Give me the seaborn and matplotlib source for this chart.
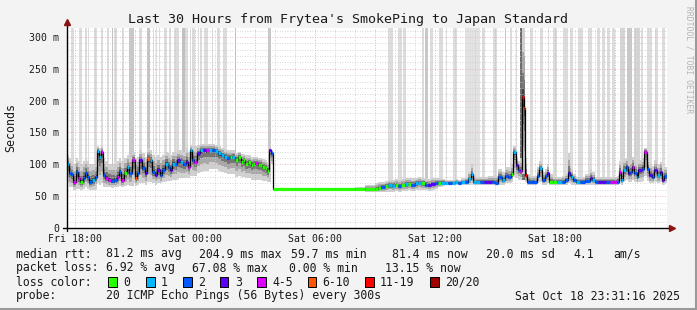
import numpy as np
import pandas as pd
import matplotlib
matplotlib.use("Agg")
import matplotlib.pyplot as plt
import seaborn as sns
from matplotlib.patches import Rectangle
from matplotlib.lines import Line2D

# ---------------- data ----------------
TITLE = "Last 30 Hours from Frytea's SmokePing to Japan Standard"
Y_LABEL = "Seconds"
x_tick_minutes = [25, 385, 745, 1105, 1465]          # minutes since 17:35 Fri
x_tick_labels = ["Fri 18:00", "Sat 00:00", "Sat 06:00", "Sat 12:00", "Sat 18:00"]
y_ticks = [0, 50, 100, 150, 200, 250, 300]
y_tick_labels = ["0", "50 m", "100 m", "150 m", "200 m", "250 m", "300 m"]

# median rtt samples (minutes since start, ms), loss class index, smoke low/high (ms)
minutes = [0, 6, 12, 18, 27, 33, 39, 48, 54, 60,
           66, 75, 84, 90, 96, 102, 108, 114, 123, 132,
           141, 150, 156, 162, 171, 180, 186, 195, 204, 210,
           216, 225, 234, 240, 249, 255, 264, 270, 279, 285,
           294, 303, 309, 315, 324, 330, 339, 348, 357, 363,
           369, 375, 381, 390, 399, 408, 417, 426, 435, 444,
           453, 462, 471, 480, 489, 495, 504, 513, 522, 528,
           534, 543, 552, 558, 564, 573, 579, 585, 594, 600,
           606, 612, 617,
           864, 894, 924, 933, 942, 954, 963, 975, 984, 993,
           1002, 1014, 1023, 1032, 1044, 1053, 1062, 1074, 1083, 1092,
           1104,
           1113, 1122, 1134, 1143, 1155, 1164, 1173, 1182, 1194, 1203,
           1212, 1218, 1227, 1239, 1251, 1263, 1275, 1284, 1293, 1305,
           1314, 1323, 1332, 1338, 1347, 1353, 1359, 1365, 1370, 1374,
           1380, 1389, 1398, 1410, 1416, 1425, 1434, 1440, 1446, 1458,
           1470, 1485, 1494, 1503, 1508, 1512, 1518, 1527, 1539, 1554,
           1569, 1575, 1584, 1593, 1605, 1617, 1629, 1641, 1650, 1656,
           1662, 1668, 1677, 1683, 1689, 1695, 1701, 1710, 1713, 1725,
           1731, 1740, 1746, 1755, 1761, 1770, 1779, 1785, 1791]
median_ms = [101, 86, 84, 72, 88, 78, 72, 78, 87, 80,
             72, 75, 80, 121, 112, 120, 83, 78, 76, 74,
             75, 80, 88, 75, 86, 95, 86, 106, 78, 86,
             106, 94, 86, 108, 106, 88, 83, 91, 83, 91,
             101, 95, 91, 101, 100, 106, 103, 100, 104, 96,
             122, 107, 104, 117, 122, 123, 122, 123, 123, 121,
             117, 114, 112, 110, 111, 112, 107, 112, 104, 106,
             101, 104, 99, 101, 102, 99, 99, 96, 94, 90,
             122, 117, 60.5,
             60.5, 61, 61.6, 63, 64, 65.6, 67, 66.7, 68, 66,
             68, 68.3, 69, 68, 70, 71, 70, 68, 67, 69,
             70,
             71, 71, 71, 71, 71, 72, 71, 72, 72, 77,
             84, 72, 72, 72, 72, 72, 72, 71, 80, 75,
             82, 80, 85, 120, 99, 91, 89, 204.9, 189, 83,
             72, 72, 72, 82, 94, 76, 81, 86, 73, 72.6,
             72.6, 72.6, 75, 86, 83, 80, 75, 72.6, 72.6, 74,
             78, 76, 72.6, 72.6, 72.6, 72.6, 72.6, 72.6, 73, 88,
             75, 91, 95, 86, 88, 96, 86, 80, 91, 93,
             120, 93, 83, 80, 91, 83, 88, 75, 81.4]
loss_idx = [1, 2, 2, 4, 2, 4, 0, 2, 2, 2,
            2, 1, 2, 1, 1, 4, 2, 4, 4, 2,
            2, 4, 2, 4, 0, 1, 2, 4, 5, 2,
            3, 2, 3, 5, 1, 2, 3, 3, 2, 2,
            1, 2, 3, 1, 2, 3, 1, 2, 3, 4,
            1, 2, 4, 3, 1, 3, 4, 1, 2, 1,
            1, 1, 1, 2, 0, 1, 0, 0, 0, 0,
            0, 0, 0, 0, 4, 0, 0, 0, 0, 0,
            3, 2, 0,
            0, 0, 0, 0, 2, 0, 1, 1, 0, 2,
            0, 1, 0, 2, 1, 1, 0, 2, 3, 3,
            2,
            0, 1, 1, 2, 1, 1, 2, 1, 2, 1,
            1, 1, 1, 2, 3, 3, 2, 2, 2, 1,
            2, 2, 0, 1, 3, 2, 4, 6, 5, 6,
            2, 2, 2, 2, 1, 2, 2, 3, 0, 0,
            1, 2, 2, 3, 2, 1, 2, 1, 2, 2,
            3, 1, 2, 3, 3, 2, 4, 4, 2, 4,
            1, 1, 2, 3, 2, 4, 2, 1, 3, 2,
            4, 2, 3, 2, 3, 1, 3, 3, 2]
smoke_lo = [70, 65, 64, 60, 62, 62, 60, 62, 64, 62,
            60, 60, 62, 70, 68, 70, 65, 64, 64, 63,
            64, 64, 66, 64, 66, 68, 66, 70, 66, 68,
            70, 70, 68, 72, 72, 70, 68, 70, 70, 72,
            74, 74, 74, 76, 76, 78, 78, 78, 80, 78,
            82, 82, 82, 86, 88, 90, 90, 92, 92, 92,
            90, 88, 86, 84, 84, 84, 80, 82, 80, 80,
            78, 78, 76, 76, 76, 76, 76, 74, 74, 72,
            100, 100, 60.5,
            59, 57, 56, 56, 56, 57, 57, 57, 58, 57,
            58, 58, 59, 58, 60, 60, 60, 59, 58, 60,
            61,
            64, 66, 67, 67, 67, 68, 67, 68, 68, 68,
            70, 68, 68, 68, 68, 68, 68, 67, 68, 68,
            70, 70, 72, 80, 78, 76, 76, 85, 85, 72,
            68, 68, 68, 70, 72, 68, 68, 70, 68, 68,
            68, 68, 68, 70, 70, 68, 68, 68, 68, 68,
            68, 68, 68, 68, 68, 68, 68, 68, 68, 72,
            68, 74, 76, 72, 72, 76, 72, 70, 72, 74,
            82, 74, 70, 70, 72, 70, 72, 68, 70]
smoke_hi = [115, 110, 105, 100, 110, 105, 100, 105, 108, 105,
            100, 100, 105, 128, 125, 128, 110, 105, 100, 100,
            100, 105, 110, 105, 110, 115, 112, 120, 110, 112,
            122, 118, 112, 125, 122, 115, 112, 115, 112, 115,
            120, 118, 115, 120, 120, 122, 122, 120, 125, 120,
            130, 128, 128, 130, 132, 132, 132, 132, 132, 130,
            128, 126, 124, 122, 122, 122, 118, 120, 116, 116,
            114, 114, 112, 112, 112, 110, 110, 108, 106, 104,
            126, 122, 60.5,
            64, 68, 70, 72, 73, 74, 76, 76, 77, 76,
            77, 78, 78, 78, 79, 80, 79, 78, 77, 78,
            79,
            78, 77, 76, 76, 76, 77, 76, 78, 80, 88,
            100, 82, 80, 80, 80, 82, 82, 82, 92, 88,
            95, 95, 100, 128, 112, 105, 110, 314, 314, 110,
            84, 82, 82, 95, 105, 88, 92, 100, 85, 80,
            80, 82, 85, 118, 100, 92, 85, 80, 80, 85,
            92, 88, 80, 80, 80, 80, 80, 80, 82, 105,
            92, 108, 110, 104, 106, 112, 104, 98, 106, 110,
            125, 110, 100, 98, 106, 100, 104, 92, 96]
END_MIN = 1800
Y_MAX = 314

# off-scale smoke columns (start minute, width minutes, grey shade)
bar_start = [12, 36, 54, 63, 81, 102, 120, 135, 141, 165,
             186, 216, 240, 258, 267, 276, 291, 306, 321, 345,
             354, 369, 375, 393, 399, 411, 414, 435, 450, 468,
             504, 603,
             963, 993, 1008, 1065, 1074, 1089, 1116, 1137, 1158, 1194,
             1245, 1278, 1314, 1329, 1347, 1359, 1389, 1419, 1443, 1458,
             1488, 1509, 1533, 1563, 1590, 1605, 1620, 1635, 1659, 1680,
             1701, 1722, 1740, 1764, 1785]
bar_width = [9, 9, 6, 3, 9, 6, 6, 3, 9, 6,
             15, 9, 9, 3, 3, 3, 9, 6, 15, 12,
             9, 3, 9, 3, 6, 3, 9, 3, 9, 12,
             3, 9,
             15, 12, 9, 6, 9, 9, 12, 3, 12, 45,
             9, 12, 3, 6, 3, 15, 9, 9, 3, 12,
             15, 9, 15, 12, 9, 9, 9, 9, 15, 15,
             18, 6, 15, 9, 9]
bar_shade = ["#dcdcdc", "#dcdcdc", "#dcdcdc", "#dcdcdc", "#dcdcdc", "#dcdcdc", "#dcdcdc", "#c4c4c4", "#dcdcdc", "#dcdcdc",
             "#c8c8c8", "#dcdcdc", "#c4c4c4", "#dcdcdc", "#dcdcdc", "#dcdcdc", "#dcdcdc", "#dcdcdc", "#dcdcdc", "#c0c0c0",
             "#dcdcdc", "#dcdcdc", "#dcdcdc", "#dcdcdc", "#dcdcdc", "#dcdcdc", "#dcdcdc", "#dcdcdc", "#dcdcdc", "#dcdcdc",
             "#c0c0c0", "#c8c8c8",
             "#dcdcdc", "#dcdcdc", "#dcdcdc", "#dcdcdc", "#c8c8c8", "#dcdcdc", "#dcdcdc", "#dcdcdc", "#dcdcdc", "#e2e2e2",
             "#dcdcdc", "#dcdcdc", "#c8c8c8", "#dcdcdc", "#dcdcdc", "#6e6e6e", "#dcdcdc", "#dcdcdc", "#dcdcdc", "#dcdcdc",
             "#dcdcdc", "#dcdcdc", "#dcdcdc", "#dcdcdc", "#dcdcdc", "#dcdcdc", "#dcdcdc", "#dcdcdc", "#d4d4d4", "#c8c8c8",
             "#d4d4d4", "#dcdcdc", "#dcdcdc", "#dcdcdc", "#dcdcdc"]

loss_labels = ["0", "1", "2", "3", "4-5", "6-10", "11-19", "20/20"]
loss_colors = ["#26ff00", "#00b8ff", "#0059ff", "#5e00ff", "#dd00ff", "#ff5500", "#ff0000", "#a00000"]

stats_rtt = [("median rtt:", 16), ("81.2 ms avg", 106), ("204.9 ms max", 199), ("59.7 ms min", 291),
             ("81.4 ms now", 392), ("20.0 ms sd", 486), ("4.1", 573), ("am/s", 613)]
stats_loss = [("packet loss:", 16), ("6.92 % avg", 106), ("67.08 % max", 192), ("0.00 % min", 289),
              ("13.15 % now", 385)]
probe_text = "20 ICMP Echo Pings (56 Bytes) every 300s"
stamp_text = "Sat Oct 18 23:31:16 2025"
watermark = "RRDTOOL / TOBI OETIKER"

# ---------------- figure ----------------
sns.set_style("white")
plt.rcParams["font.family"] = ["DejaVu Sans Mono", "DejaVu Sans"]

W, H = 697, 310
BG = "#f3f3f3"
fig = plt.figure(figsize=(W / 100, H / 100), dpi=100, facecolor=BG)

def fx(px):
    return px / W

def fy(py):
    return 1 - py / H

ax = fig.add_axes([fx(67), fy(228), 600 / W, 200 / H])
ax.set_facecolor("white")

df = pd.DataFrame({"t": minutes, "median": median_ms, "loss": loss_idx,
                   "lo": smoke_lo, "hi": smoke_hi})
t = df["t"].to_numpy(float)
med = df["median"].to_numpy(float)
lo = df["lo"].to_numpy(float)
hi = df["hi"].to_numpy(float)
t_next = np.append(t[1:], END_MIN)

# off-scale smoke columns
bs = np.array(bar_start, float)
idx = np.clip(np.searchsorted(t, bs, side="right") - 1, 0, len(t) - 1)
bottoms = lo[idx]
ax.bar(bs, Y_MAX - bottoms, bottom=bottoms, width=bar_width, align="edge",
       color=bar_shade, linewidth=0, zorder=0.5)

# smoke layers
t_ext = np.append(t, END_MIN)
for frac, col in [(1.0, "#d0d0d0"), (0.65, "#a8a8a8"), (0.35, "#767676"), (0.12, "#404040")]:
    lower = med - frac * (med - lo)
    upper = med + frac * (hi - med)
    ax.fill_between(t_ext, np.append(lower, lower[-1]), np.append(upper, upper[-1]),
                    step="post", color=col, linewidth=0, zorder=1)

# grid (drawn above smoke)
for yv in range(10, 311, 10):
    major = yv % 50 == 0
    ax.axhline(yv, color="#e8a0a0" if major else "#c8c8c8", lw=0.6,
               ls=(0, (1, 2)), zorder=1.5)
for xv in range(25, END_MIN, 60):
    major = (xv - 25) % 180 == 0
    ax.axvline(xv, color="#e8a0a0" if major else "#c8c8c8", lw=0.6,
               ls=(0, (1, 2)), zorder=1.5)

# median line (black step) + loss-coloured segments
df_line = pd.DataFrame({"t": np.append(t, END_MIN), "median": np.append(med, med[-1])})
sns.lineplot(data=df_line, x="t", y="median", ax=ax, color="black", lw=0.9,
             drawstyle="steps-post", estimator=None, sort=False, zorder=3)
ax.hlines(med, t, t_next, colors=[loss_colors[i] for i in loss_idx], lw=2.3, zorder=4)

ax.set_xlim(0, END_MIN)
ax.set_ylim(0, Y_MAX)
for s in ax.spines.values():
    s.set_visible(False)

major_x = list(range(25, END_MIN, 180))
ax.set_xticks(major_x)
ax.set_xticklabels([x_tick_labels[x_tick_minutes.index(m)] if m in x_tick_minutes else "" for m in major_x])
ax.set_yticks(y_ticks)
ax.set_yticklabels(y_tick_labels)
ax.tick_params(axis="both", direction="out", length=3, width=0.8, color="black",
               labelsize=7.1, labelcolor="#1a1a1a")
ax.tick_params(axis="x", pad=1.5)
ax.tick_params(axis="y", pad=2.5)
ax.set_xlabel("")
ax.set_ylabel("")

# axis lines with arrows
ax.plot([-0.006, 1.0085], [0, 0], transform=ax.transAxes, color="black", lw=1, clip_on=False, zorder=6)
ax.plot([0, 0], [-0.015, 1.03], transform=ax.transAxes, color="black", lw=1, clip_on=False, zorder=6)
ax.plot([1.0085], [0], transform=ax.transAxes, marker=">", ms=4, color="#8b1010", clip_on=False, zorder=7)
ax.plot([0], [1.03], transform=ax.transAxes, marker="^", ms=4, color="#8b1010", clip_on=False, zorder=7)

# texts
fig.text(fx(348), fy(19), TITLE, ha="center", va="center", fontsize=9.6, color="#1a1a1a")
fig.text(fx(11), fy(128), Y_LABEL, ha="center", va="center", rotation=90, fontsize=8.4, color="#1a1a1a")
fig.text(fx(688.5), fy(6), watermark, ha="center", va="top", rotation=270, fontsize=5.8, color="#b4b4b4")

TXT = 8.3
for s, xp in stats_rtt:
    fig.text(fx(xp), fy(254), s, ha="left", va="center", fontsize=TXT, color="#1a1a1a")
for s, xp in stats_loss:
    fig.text(fx(xp), fy(268), s, ha="left", va="center", fontsize=TXT, color="#1a1a1a")
fig.text(fx(16), fy(282), "loss color:", ha="left", va="center", fontsize=TXT, color="#1a1a1a")
box_x = [108, 146, 183, 220, 257, 307.5, 365, 430]
for bx, lab, col in zip(box_x, loss_labels, loss_colors):
    fig.add_artist(Rectangle((fx(bx), fy(286.5)), 8.5 / W, 9.5 / H, transform=fig.transFigure,
                             facecolor=col, edgecolor="black", lw=0.7))
    fig.text(fx(bx + 15), fy(282), lab, ha="left", va="center", fontsize=TXT, color="#1a1a1a")
fig.text(fx(16), fy(296), "probe:", ha="left", va="center", fontsize=TXT, color="#1a1a1a")
fig.text(fx(106), fy(296), probe_text, ha="left", va="center", fontsize=TXT, color="#1a1a1a")
fig.text(fx(680), fy(296), stamp_text, ha="right", va="center", fontsize=TXT, color="#1a1a1a")

# canvas frame
fig.add_artist(Line2D([fx(695.5), fx(695.5)], [fy(0), fy(310)], color="#9a9a9a", lw=1.5, transform=fig.transFigure))
fig.add_artist(Line2D([fx(0), fx(697)], [fy(308.7), fy(308.7)], color="#9a9a9a", lw=1.5, transform=fig.transFigure))

fig.savefig("out.png", dpi=100, facecolor=BG)
